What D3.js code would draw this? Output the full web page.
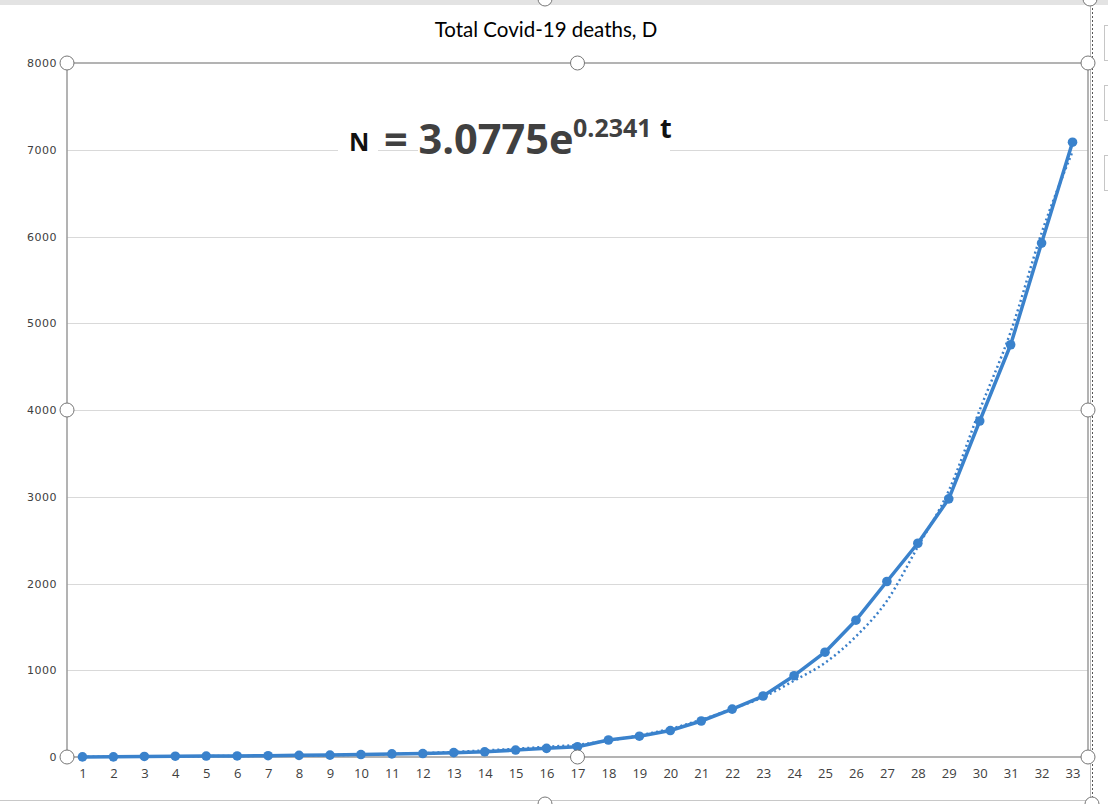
<!DOCTYPE html>
<html>
<head>
<meta charset="utf-8">
<script src="https://cdn.jsdelivr.net/npm/d3@7"></script>
<style>
  html, body { margin: 0; padding: 0; background: #ffffff; }
  svg { display: block; }
</style>
</head>
<body>
<svg id="chart" width="1108" height="804"></svg>
<script>
// ---- data ----
const days = d3.range(1, 34).map(String);
const deaths = [1, 2, 6, 9, 11, 12, 15, 19, 22, 28, 36, 40, 50, 60, 80, 100, 118, 196, 240, 305, 415, 552, 703, 937, 1208, 1577, 2023, 2464, 2976, 3873, 4752, 5924, 7087];
const trend = [3, 4, 6, 8, 10, 12, 14, 17, 21, 27, 35, 45, 58, 75, 95, 118, 140, 190, 250, 325, 430, 555, 690, 880, 1085, 1390, 1800, 2424, 3070, 4000, 4900, 6040, 6980];
const yTicks = [0, 1000, 2000, 3000, 4000, 5000, 6000, 7000, 8000];
const title = "Total Covid-19 deaths, D";

(function () {
const svg = d3.select("#chart");
const W = 1108, H = 804;
const pL = 67, pR = 1088, pT = 63, pB = 757;

const x = d3.scalePoint().domain(days).range([pL, pR]).padding(0.5);
const y = d3.scaleLinear().domain([0, 8000]).range([pB, pT]);

// chart-area frame decorations
svg.append("rect").attr("x", 0).attr("y", 0).attr("width", W).attr("height", 5).attr("fill", "#e3e3e3");
svg.append("line").attr("x1", 0).attr("x2", 1092).attr("y1", 800.5).attr("y2", 800.5).attr("stroke", "#c8c8c8");
svg.append("line").attr("x1", 1092.5).attr("x2", 1092.5).attr("y1", 0).attr("y2", H)
  .attr("stroke", "#555").attr("stroke-dasharray", "2 2");
svg.append("line").attr("x1", 1090.5).attr("x2", 1090.5).attr("y1", 0).attr("y2", H).attr("stroke", "#bbb");
[[25, 60], [85, 120], [155, 190]].forEach(([a, b]) => {
  svg.append("rect").attr("x", 1104.5).attr("y", a + 0.5).attr("width", 10).attr("height", b - a)
    .attr("fill", "#fff").attr("stroke", "#c6c6c6");
});

// gridlines
svg.append("g").selectAll("line").data(yTicks.filter(d => d > 0 && d < 8000)).join("line")
  .attr("x1", pL).attr("x2", pR)
  .attr("y1", d => Math.round(y(d)) + 0.5).attr("y2", d => Math.round(y(d)) + 0.5)
  .attr("stroke", "#d9d9d9").attr("stroke-width", 1);

// plot area border (selected)
svg.append("rect").attr("x", pL).attr("y", pT).attr("width", pR - pL).attr("height", pB - pT)
  .attr("fill", "none").attr("stroke", "#9a9a9a").attr("stroke-width", 1.5);

// y axis
const yAxis = d3.axisLeft(y).tickValues(yTicks).tickFormat(d3.format("d")).tickSize(0).tickPadding(10);
const gy = svg.append("g").attr("transform", `translate(${pL},0)`).call(yAxis);
gy.select(".domain").remove();
gy.selectAll("text").attr("font-family", "DejaVu Sans").attr("font-size", 11)
  .attr("fill", "#404040").attr("letter-spacing", "0.5px");

// x axis
const xAxis = d3.axisBottom(x).tickSize(0).tickPadding(12);
const gx = svg.append("g").attr("transform", `translate(0,${pB})`).call(xAxis);
gx.select(".domain").remove();
gx.selectAll("text").attr("font-family", "Open Sans").attr("font-size", 13).attr("fill", "#404040");

// equation box (white backgrounds covering the gridline)
svg.append("rect").attr("x", 338).attr("y", 125).attr("width", 40).attr("height", 35).attr("fill", "#fff");
svg.append("rect").attr("x", 418).attr("y", 105).attr("width", 252).attr("height", 55).attr("fill", "#fff");

// trend (dotted)
svg.append("path").datum(trend)
  .attr("d", d3.line().x((d, i) => x(days[i])).y(d => y(d)).curve(d3.curveMonotoneX))
  .attr("fill", "none").attr("stroke", "#3a7fc9").attr("stroke-width", 2.5)
  .attr("stroke-dasharray", "2 3").attr("stroke-linecap", "butt");

// data line
svg.append("path").datum(deaths)
  .attr("d", d3.line().x((d, i) => x(days[i])).y(d => y(d)))
  .attr("fill", "none").attr("stroke", "#3a82cc").attr("stroke-width", 3.5).attr("stroke-linejoin", "round");
svg.append("g").selectAll("circle").data(deaths).join("circle")
  .attr("cx", (d, i) => x(days[i])).attr("cy", d => y(d)).attr("r", 4.8)
  .attr("fill", "#3a82cc");

// selection handles
const handles = [[pL, pT], [(pL + pR) / 2, pT], [pR, pT], [pL, (pT + pB) / 2], [pR, (pT + pB) / 2],
  [pL, pB], [(pL + pR) / 2, pB], [pR, pB]];
svg.append("g").selectAll("circle").data(handles).join("circle")
  .attr("cx", d => d[0]).attr("cy", d => d[1]).attr("r", 7)
  .attr("fill", "#fff").attr("stroke", "#777").attr("stroke-width", 1);
[[545, -1], [1090, -1], [545, 804], [1092, 804]].forEach(([cx, cy]) => {
  svg.append("circle").attr("cx", cx).attr("cy", cy).attr("r", 7).attr("fill", "#fff").attr("stroke", "#777");
});

// title
svg.append("text").attr("x", 546).attr("y", 37).attr("text-anchor", "middle")
  .attr("font-family", "Lato").attr("font-size", 20.5).attr("fill", "#000").text(title);

// equation
svg.append("text").attr("x", 349).attr("y", 151).attr("font-family", "Open Sans").attr("font-weight", "bold")
  .attr("font-size", 25).attr("fill", "#111").text("N");
svg.append("text").attr("x", 384).attr("y", 154).attr("font-family", "Open Sans").attr("font-weight", "bold")
  .attr("font-size", 41.5).attr("fill", "#404040").text("= 3.0775e");
svg.append("text").attr("x", 573).attr("y", 137).attr("font-family", "Open Sans").attr("font-weight", "bold")
  .attr("font-size", 25).attr("fill", "#404040").text("0.2341");
svg.append("text").attr("x", 660).attr("y", 138).attr("font-family", "Open Sans").attr("font-weight", "bold")
  .attr("font-size", 27).attr("fill", "#111").text("t");
})();
</script>
</body>
</html>
